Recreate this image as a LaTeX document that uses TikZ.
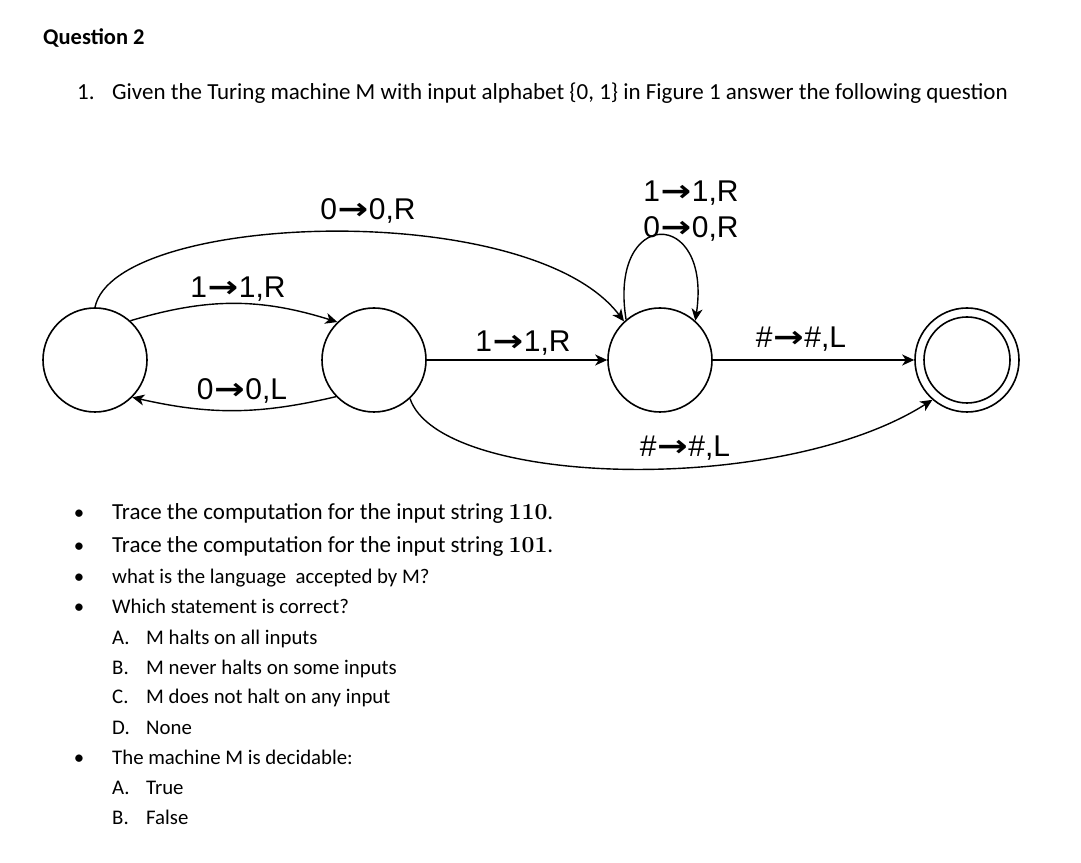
\documentclass[tikz,border=0pt]{standalone}
\usepackage{fontspec}
\usepackage{graphicx}
\setmainfont{Carlito}
\newfontfamily\labfont{Liberation Sans}
\newfontfamily\arrfont{DejaVu Sans}
\newfontfamily\lmfont{Latin Modern Roman}
\usetikzlibrary{arrows.meta}
\newcommand\tmarrow{\hspace{0.5pt}\scalebox{1.22}[1]{\arrfont\bfseries\symbol{"2192}}\hspace{0.5pt}}
\begin{document}
\begin{tikzpicture}[x=1pt,y=1pt,
  state/.style={circle,draw,line width=1.6pt,minimum size=104pt,inner sep=0pt},
  innerc/.style={circle,draw,line width=1.6pt,minimum size=86pt,inner sep=0pt},
  edge/.style={-{Stealth[length=12pt,width=11pt,inset=3.5pt]},line width=1.4pt},
  lab/.style={font=\labfont\fontsize{30}{36}\selectfont,anchor=base,inner sep=0pt},
  title/.style={anchor=base west,inner sep=0pt,font=\bfseries\fontsize{22.5}{27}\selectfont},
  big/.style={anchor=base west,inner sep=0pt,font=\fontsize{23}{27}\selectfont},
  small/.style={anchor=base west,inner sep=0pt,font=\fontsize{20.8}{25}\selectfont},
  bul/.style={anchor=base,inner sep=0pt,font=\fontsize{20.8}{25}\selectfont}]
\useasboundingbox (0,0) rectangle (1081,862);
\fill[white] (0,0) rectangle (1081,862);
% texts
\node[title] (tq) at (43,817) {Question 2};
\node[big] (n1) at (77,762) {1.};
\node[big] (given) at (112,762) {Given the Turing machine M with input alphabet \{0, 1\} in Figure 1 answer the following question};
% states
\node[state] (q0) at (95,502) {};
\node[state] (q1) at (374,502) {};
\node[state] (q2) at (660,502) {};
\node[state] (q3) at (967,502) {};
\node[innerc] (q3i) at (967,502) {};
% edges
\draw[edge] (q0.48) to[bend left=17] (q1.134);
\draw[edge] (q1.224) to[bend left=13] (q0.315);
\draw[edge] (q0.90) .. controls (115,650) and (530,665) .. (q2.133);
\draw[edge] (q1) -- (q2);
\draw[edge] (q2.130) .. controls (608,655) and (712,655) .. (q2.48);
\draw[edge] (q2) -- (q3);
\draw[edge] (q1.313) .. controls (440,375) and (780,365) .. (q3.229);
% labels
\node[lab] (l1) at (368,642) {0\tmarrow0,R};
\node[lab] (l2) at (238,564) {1\tmarrow1,R};
\node[lab] (l3) at (242,462) {0\tmarrow0,L};
\node[lab] (l4) at (523,510) {1\tmarrow1,R};
\node[lab] (l5) at (691,660) {1\tmarrow1,R};
\node[lab] (l6) at (691,624) {0\tmarrow0,R};
\node[lab] (l7) at (801,514) {\#\tmarrow\#,L};
\node[lab] (l8) at (685,405) {\#\tmarrow\#,L};
% bullets
\node[bul] (b1) at (79,342) {\textbullet};
\node[big] (t1) at (112,342) {Trace the computation for the input string {\lmfont\bfseries 110}.};
\node[bul] (b2) at (79,309) {\textbullet};
\node[big] (t2) at (112,309) {Trace the computation for the input string {\lmfont\bfseries 101}.};
\node[bul] (b3) at (79,278) {\textbullet};
\node[small] (t3) at (112,278) {what is the language\ \ accepted by M?};
\node[bul] (b4) at (79,248) {\textbullet};
\node[small] (t4) at (112,248) {Which statement is correct?};
\node[small] (a1) at (112,217) {A.};
\node[small] (a1t) at (146,217) {M halts on all inputs};
\node[small] (a2) at (112,187) {B.};
\node[small] (a2t) at (146,187) {M never halts on some inputs};
\node[small] (a3) at (112,158) {C.};
\node[small] (a3t) at (146,158) {M does not halt on any input};
\node[small] (a4) at (112,128) {D.};
\node[small] (a4t) at (146,128) {None};
\node[bul] (b5) at (79,98) {\textbullet};
\node[small] (t5) at (112,98) {The machine M is decidable:};
\node[small] (c1) at (112,68) {A.};
\node[small] (c1t) at (146,68) {True};
\node[small] (c2) at (112,38) {B.};
\node[small] (c2t) at (146,38) {False};
\end{tikzpicture}
\end{document}
